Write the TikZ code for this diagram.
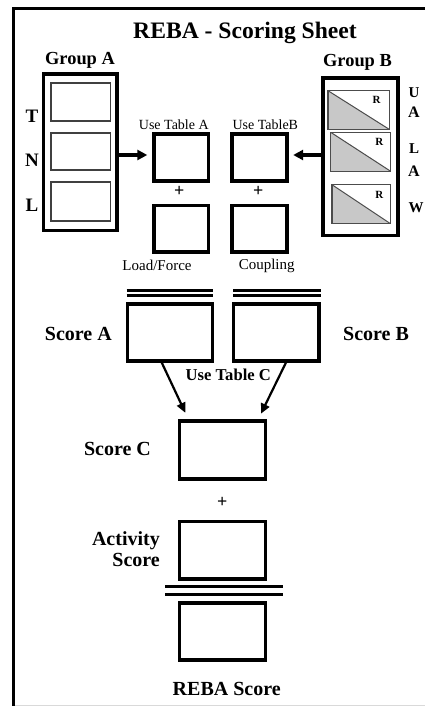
\documentclass[tikz,border=0pt]{standalone}
\usepackage{fontspec}
\setmainfont{Liberation Serif}
\usetikzlibrary{arrows.meta}
\definecolor{gfill}{RGB}{200,200,200}
\newcommand\RBox[6]{\node[#6, minimum width={(#4)-(#2)}, minimum height={(#5)-(#3)}] (#1) at ({((#2)+(#4))/2},{((#3)+(#5))/2}) {};}
\tikzset{
  thickbox/.style={draw, line width=3.4pt, inner sep=0pt},
  thinbox/.style={draw=black!75, line width=1.6pt, inner sep=0pt},
  tribox/.style={draw=black!70, line width=1.4pt, inner sep=0pt,
    path picture={\fill[gfill] (path picture bounding box.north west) -- (path picture bounding box.south east) -- (path picture bounding box.south west) -- cycle;
      \draw[line width=1pt] (path picture bounding box.north west) -- (path picture bounding box.south east);}},
  dline/.style={line width=2.6pt},
  arr/.style={line width=3.2pt, -{Triangle[length=10pt,width=10pt]}},
  darr/.style={line width=2.2pt, -{Triangle[length=10pt,width=9pt]}},
  txt/.style={anchor=base, inner sep=0pt},
  big/.style={txt, font=\bfseries\fontsize{20}{24}\selectfont},
  small/.style={txt, font=\fontsize{14}{16}\selectfont},
  smallb/.style={txt, font=\fontsize{15}{17}\selectfont},
  side/.style={txt, font=\bfseries\fontsize{15}{17}\selectfont},
  rlab/.style={txt, font=\bfseries\fontsize{11}{13}\selectfont},
  plus/.style={inner sep=0pt, font=\bfseries\fontsize{18}{20}\selectfont},
}
\begin{document}
\begin{tikzpicture}[x=1pt,y=-1pt]
\useasboundingbox (0,0) rectangle (425,706);
% frame
\draw[line width=3pt] (425,8.5) -- (13.5,8.5) -- (13.5,706);
\draw[black!15, line width=1pt] (15,705) -- (425,705);
% title
\node[txt, font=\bfseries\fontsize{23.6}{28}\selectfont] (title) at (245,39) {REBA - Scoring Sheet};
% Group A
\node[txt, font=\bfseries\fontsize{18.4}{22}\selectfont] (gal) at (80,65) {Group A};
\RBox{ga}{43.3}{74}{117}{230.5}{thickbox}
\RBox{ga1}{51}{83}{110.5}{121}{thinbox}
\RBox{ga2}{51}{133}{110.5}{170}{thinbox}
\RBox{ga3}{51}{182}{110.5}{220.7}{thinbox}
\node[txt, font=\bfseries\fontsize{19}{22}\selectfont] (lt) at (32,122.7) {T};
\node[txt, font=\bfseries\fontsize{19}{22}\selectfont] (ln) at (32,166.7) {N};
\node[txt, font=\bfseries\fontsize{19}{22}\selectfont] (ll) at (32,211.7) {L};
% Group B
\node[txt, font=\bfseries\fontsize{18.4}{22}\selectfont] (gbl) at (357.5,66.7) {Group B};
\RBox{gb}{323}{78}{398}{235.3}{thickbox}
\RBox{gb1}{328}{90.7}{389.5}{129.5}{tribox}
\RBox{gb2}{330.7}{132.3}{390.7}{171.3}{tribox}
\RBox{gb3}{332}{184.7}{390.5}{223.7}{tribox}
\node[rlab] (r1) at (376.7,103.3) {R};
\node[rlab] (r2) at (379.3,145.7) {R};
\node[rlab] (r3) at (379.3,198.3) {R};
\node[side] (su) at (414,97.3) {U};
\node[side, font=\bfseries\fontsize{16}{18}\selectfont] (sa1) at (414,117.3) {A};
\node[side] (sl) at (414,153.3) {L};
\node[side, font=\bfseries\fontsize{16}{18}\selectfont] (sa2) at (414,176.7) {A};
\node[side] (sw) at (416,212.7) {W};
% tables
\node[small] (uta) at (173.8,129.3) {Use Table A};
\node[small] (utb) at (265.3,129.3) {Use TableB};
\RBox{ta}{154}{134}{208.7}{181}{thickbox}
\RBox{lf}{154}{205.3}{208.7}{252}{thickbox}
\RBox{tb}{232}{134}{287}{181}{thickbox}
\RBox{cp}{232}{205.3}{287}{252}{thickbox}
\node[plus] (p1) at (179.3,191.7) {+};
\node[plus] (p2) at (258.3,191.7) {+};
\node[smallb] (lfl) at (157,270.7) {Load/Force};
\node[smallb] (cpl) at (266.7,269.3) {Coupling};
\draw[arr, shorten >=5pt] (ga.east |- 0,155) -- (ta.west |- 0,155);
\draw[arr, shorten >=4.5pt] (gb.west |- 0,155) -- (tb.east |- 0,155);
% scores A and B
\draw[dline] (126.7,290.5) -- (213.3,290.5);
\draw[dline] (126.7,295.5) -- (213.3,295.5);
\draw[dline] (233.3,290.5) -- (320.7,290.5);
\draw[dline] (233.3,295.5) -- (320.7,295.5);
\RBox{sa}{127.5}{304}{212.5}{360.8}{thickbox}
\RBox{sb}{233.5}{304}{319}{360.8}{thickbox}
\node[big] (sal) at (78.3,340) {Score A};
\node[big] (sbl) at (376,340) {Score B};
\node[txt, font=\bfseries\fontsize{16.6}{20}\selectfont] (utc) at (228.3,380.7) {Use Table C};
% score C
\RBox{sc}{179.7}{420.8}{265.5}{478.8}{thickbox}
\draw[darr, shorten >=7pt] (sa.south -| 161.7,0) -- (sc.north -| 188.3,0);
\draw[darr, shorten >=6pt] (sb.south -| 286,0) -- (sc.north -| 258.3,0);
\node[big] (scl) at (117.5,455) {Score C};
\node[plus] (p3) at (222.3,502) {+};
\RBox{ac}{179.7}{521.7}{265.5}{578.8}{thickbox}
\node[big, anchor=base east] (acl1) at (160,545) {Activity};
\node[big, anchor=base east] (acl2) at (160,566.7) {Score};
\draw[dline, line width=3pt] (165,586.7) -- (282.7,586.7);
\draw[dline, line width=3pt] (165,594) -- (282.7,594);
\RBox{rs}{179.7}{603}{265.5}{660}{thickbox}
\node[big] (rsl) at (226.7,695) {REBA Score};
\end{tikzpicture}
\end{document}
